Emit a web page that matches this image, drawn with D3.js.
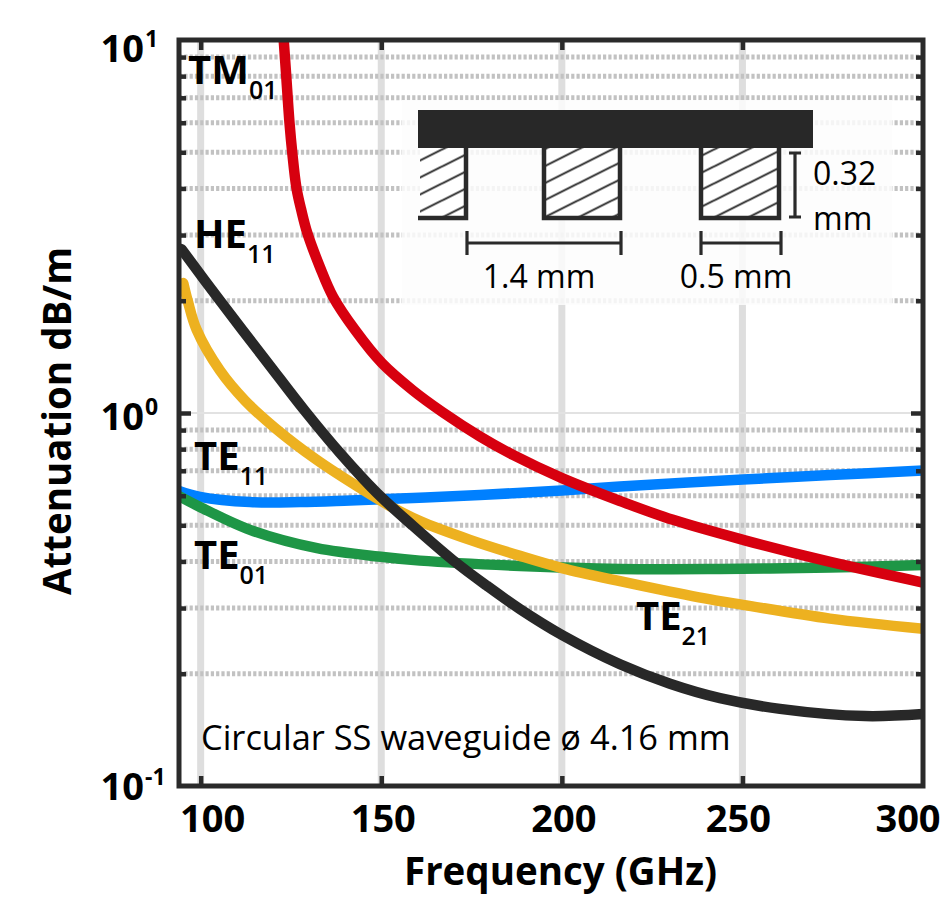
<!DOCTYPE html>
<html>
<head>
<meta charset="utf-8">
<script src="https://cdn.jsdelivr.net/npm/d3@7"></script>
<style>
    html, body { margin: 0; padding: 0; background: #fff; overflow: hidden; }
    svg { display: block; }
    text { font-family: "Open Sans", sans-serif; fill: #000; }
    .tick-label, .axis-title, .mode { font-weight: 700; }
</style>
</head>
<body>
<div id="chart"></div>
<script>
// values (GHz, dB/m)
const freqTM01 = [122.99, 123.63, 124.6, 125.37, 126.53, 127.92, 129.52, 133.04, 136.64, 142.73, 150.2, 158.79, 167.1, 177.34, 186.48, 200.04, 216.1, 230.78, 250.16, 272.3, 300];
const attTM01 = [10, 8.16, 5.99, 4.98, 4.01, 3.48, 3.04, 2.46, 2.05, 1.67, 1.36, 1.149, 1.003, 0.865, 0.772, 0.669, 0.581, 0.517, 0.457, 0.403, 0.351];
const freqHE11 = [94.69, 105.35, 118.64, 128.89, 138.58, 148.82, 158.51, 169.86, 179.28, 188.41, 200.04, 216.1, 229.95, 243.79, 260.4, 283.94, 300];
const attHE11 = [2.75, 2.0, 1.36, 1.012, 0.781, 0.61, 0.501, 0.403, 0.344, 0.298, 0.254, 0.212, 0.188, 0.172, 0.161, 0.154, 0.156];
const freqTE21 = [95.19, 96.41, 98.9, 105.35, 112.27, 120.58, 132.21, 144.94, 152.42, 160.73, 174.57, 188.41, 200.04, 216.1, 229.95, 243.79, 250.16, 274.25, 300];
const attTE21 = [2.23, 2.0, 1.67, 1.3, 1.08, 0.912, 0.748, 0.622, 0.563, 0.513, 0.457, 0.414, 0.384, 0.354, 0.332, 0.313, 0.306, 0.281, 0.264];
const freqTE11 = [94, 99.81, 113.66, 127.5, 141.35, 158.79, 177.34, 200.04, 216.1, 250.16, 274.25, 300];
const attTE11 = [0.618, 0.596, 0.577, 0.577, 0.583, 0.592, 0.603, 0.62, 0.635, 0.663, 0.682, 0.701];
const freqTE01 = [94, 99.81, 113.66, 132.21, 150.48, 160.73, 188.41, 216.1, 243.79, 274.25, 300];
const attTE01 = [0.599, 0.56, 0.486, 0.434, 0.411, 0.402, 0.389, 0.382, 0.382, 0.385, 0.391];

const xTicks = [100, 150, 200, 250, 300];
const yMajor = [0.1, 1, 10];
const yMinor = [0.2, 0.3, 0.4, 0.5, 0.6, 0.7, 0.8, 0.9, 2, 3, 4, 5, 6, 7, 8, 9];

const series = [
    {x: freqTE11, y: attTE11, color: "#0080ff"},
    {x: freqTE01, y: attTE01, color: "#1e9646"},
    {x: freqTE21, y: attTE21, color: "#edb120"},
    {x: freqTM01, y: attTM01, color: "#d7000f"},
    {x: freqHE11, y: attHE11, color: "#282828"}
];

const width = 942, height = 900;
const frame = {left: 179, right: 923, top: 40, bottom: 786};
const ink = "#2a2a2a";

const svg = d3.select("#chart").append("svg")
    .attr("width", width)
    .attr("height", height);

const x = d3.scaleLinear().domain([94, 300]).range([frame.left, frame.right]);
const y = d3.scaleLog().domain([0.1, 10]).range([frame.bottom, frame.top]);

svg.append("defs").append("clipPath").attr("id", "plot")
    .append("rect")
    .attr("x", frame.left)
    .attr("y", frame.top)
    .attr("width", frame.right - frame.left)
    .attr("height", frame.bottom - frame.top);

// hatch for the corrugation teeth
svg.select("defs").append("pattern")
    .attr("id", "hatch")
    .attr("patternUnits", "userSpaceOnUse")
    .attr("width", 34)
    .attr("height", 17)
    .attr("patternTransform", "translate(0,13.5)")
    .append("path")
    .attr("d", "M-4,19L38,-2M-4,36L38,15M-4,2L38,-19")
    .attr("stroke", ink)
    .attr("stroke-width", 2);

// grid
const grid = svg.append("g");
grid.selectAll(".vgrid").data(xTicks.slice(0, 4)).enter().append("line")
    .attr("x1", d => x(d)).attr("x2", d => x(d))
    .attr("y1", frame.top).attr("y2", frame.bottom)
    .attr("stroke", "#dedede").attr("stroke-width", 7);
grid.append("line")
    .attr("x1", frame.left).attr("x2", frame.right)
    .attr("y1", y(1)).attr("y2", y(1))
    .attr("stroke", "#e2e2e2").attr("stroke-width", 1.8);
grid.selectAll(".hgrid").data(yMinor).enter().append("line")
    .attr("x1", frame.left).attr("x2", frame.right)
    .attr("y1", d => y(d)).attr("y2", d => y(d))
    .attr("stroke", "#c2c2c2").attr("stroke-width", 5)
    .attr("stroke-dasharray", "3.2 2.1");

// curves
const line = d3.line().curve(d3.curveCatmullRom.alpha(0.5));
svg.append("g").attr("clip-path", "url(#plot)")
    .selectAll("path").data(series).enter().append("path")
    .attr("d", s => line(s.x.map((f, i) => [x(f), y(s.y[i])])))
    .attr("fill", "none")
    .attr("stroke", s => s.color)
    .attr("stroke-width", 10.5)
    .attr("stroke-linecap", "round");

// inset: wash over the grid, then the groove cross section
svg.append("rect")
    .attr("x", 402).attr("y", 100)
    .attr("width", 490).attr("height", 205)
    .attr("fill", "#fdfdfd").attr("opacity", 0.85);

const teeth = [[420, 466], [544, 620], [701, 779]];
const inset = svg.append("g");
inset.selectAll(".tooth")
    .data(teeth)
    .enter().append("rect")
    .attr("x", d => d[0]).attr("y", 144)
    .attr("width", d => d[1] - d[0]).attr("height", 74)
    .attr("fill", "#fff");
inset.selectAll(".tooth-h")
    .data(teeth)
    .enter().append("rect")
    .attr("x", d => d[0]).attr("y", 144)
    .attr("width", d => d[1] - d[0]).attr("height", 74)
    .attr("fill", "url(#hatch)");
// outlines, left tooth is open on its left side
inset.append("path")
    .attr("d", "M418,218H466V146M544,146V218H620V146M701,146V218H779V146")
    .attr("fill", "none")
    .attr("stroke", ink).attr("stroke-width", 4.5);
inset.append("rect")
    .attr("x", 418).attr("y", 110)
    .attr("width", 395).attr("height", 38)
    .attr("fill", "#282828");
inset.append("path")
    .attr("d", "M467,231V255M467,243H621M621,231V255M701,231V255M701,243H781M781,231V255M789,153H801M795,153V217M789,217H801")
    .attr("fill", "none")
    .attr("stroke", ink).attr("stroke-width", 3.2);

const insetText = [
    {t: "1.4 mm", x: 539, y: 288, a: "middle"},
    {t: "0.5 mm", x: 736, y: 288, a: "middle"},
    {t: "0.32", x: 813, y: 185, a: "start"},
    {t: "mm", x: 813, y: 230, a: "start"}
];
inset.selectAll("text").data(insetText).enter().append("text")
    .attr("x", d => d.x).attr("y", d => d.y)
    .attr("text-anchor", d => d.a)
    .attr("font-size", 32)
    .attr("fill", "#222")
    .text(d => d.t);

// frame and ticks
const tickStyle = g => {
    g.select(".domain").remove();
    g.selectAll("text").remove();
    g.selectAll("line").attr("stroke", ink).attr("stroke-width", 4.5);
};
svg.append("g").attr("transform", `translate(0,${frame.bottom})`)
    .call(d3.axisBottom(x).tickValues(xTicks.slice(0, 4)).tickSize(-10)).call(tickStyle);
svg.append("g").attr("transform", `translate(0,${frame.top})`)
    .call(d3.axisTop(x).tickValues(xTicks.slice(0, 4)).tickSize(-10)).call(tickStyle);
svg.append("g").attr("transform", `translate(${frame.left},0)`)
    .call(d3.axisLeft(y).tickValues(yMinor).tickSize(-7)).call(tickStyle);
svg.append("g").attr("transform", `translate(${frame.right},0)`)
    .call(d3.axisRight(y).tickValues(yMinor).tickSize(-7)).call(tickStyle);
svg.append("g").attr("transform", `translate(${frame.left},0)`)
    .call(d3.axisLeft(y).tickValues([1]).tickSize(-12)).call(tickStyle);
svg.append("g").attr("transform", `translate(${frame.right},0)`)
    .call(d3.axisRight(y).tickValues([1]).tickSize(-12)).call(tickStyle);
svg.append("rect")
    .attr("x", frame.left).attr("y", frame.top)
    .attr("width", frame.right - frame.left)
    .attr("height", frame.bottom - frame.top)
    .attr("fill", "none")
    .attr("stroke", ink).attr("stroke-width", 5);

// tick labels sit off their ticks at the ends, as in the figure
const xLabelShift = d => d === 100 ? 12 : d === 300 ? -15 : d === 250 ? -4 : 2;
svg.selectAll(".xlabel").data(xTicks).enter().append("text")
    .attr("class", "tick-label")
    .attr("x", d => x(d) + xLabelShift(d))
    .attr("y", 832)
    .attr("text-anchor", "middle")
    .attr("font-size", 38)
    .text(d => d);

const yLabelDrop = d => d === 10 ? 22 : d === 1 ? 17 : 14;
const ylabels = svg.selectAll(".ylabel").data(yMajor).enter().append("g");
ylabels.append("text")
    .attr("class", "tick-label")
    .attr("x", 144)
    .attr("y", d => y(d) + yLabelDrop(d))
    .attr("text-anchor", "end")
    .attr("font-size", 38)
    .text("10");
ylabels.append("text")
    .attr("class", "tick-label")
    .attr("x", 145)
    .attr("y", d => y(d) + yLabelDrop(d) - 15)
    .attr("font-size", 23)
    .text(d => Math.round(Math.log10(d)));

svg.append("text")
    .attr("class", "axis-title")
    .attr("x", 560.5).attr("y", 885)
    .attr("text-anchor", "middle")
    .attr("font-size", 38.5)
    .text("Frequency (GHz)");
svg.append("text")
    .attr("class", "axis-title")
    .attr("transform", "translate(71,421) rotate(-90)")
    .attr("text-anchor", "middle")
    .attr("font-size", 38.5)
    .text("Attenuation dB/m");

svg.append("text")
    .attr("x", 201).attr("y", 750)
    .attr("font-size", 34.4)
    .attr("fill", "#111")
    .text("Circular SS waveguide ø 4.16 mm");

// mode labels
const modeNames = ["TM", "HE", "TE", "TE", "TE"];
const modeSubs = ["01", "11", "11", "01", "21"];
const modePlace = [[188, 84], [194, 248], [194, 470], [194, 569], [636, 630]];
const modes = svg.selectAll(".mode-label").data(modeNames).enter().append("text")
    .attr("class", "mode")
    .attr("x", (d, i) => modePlace[i][0])
    .attr("y", (d, i) => modePlace[i][1])
    .attr("font-size", 40);
modes.append("tspan").text(d => d);
modes.append("tspan")
    .attr("dy", 15)
    .attr("font-size", 25)
    .attr("font-weight", 600)
    .text((d, i) => modeSubs[i]);
</script>
</body>
</html>
